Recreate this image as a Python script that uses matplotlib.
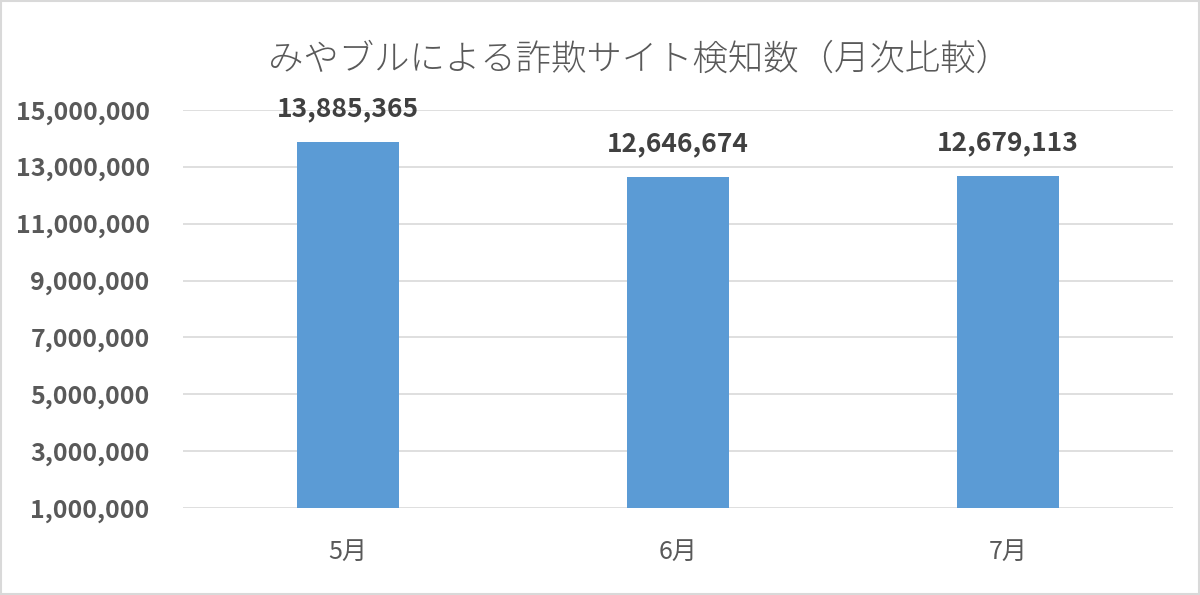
import matplotlib
matplotlib.use("Agg")
import matplotlib.pyplot as plt
from matplotlib.ticker import FuncFormatter
from matplotlib.patches import Rectangle

plt.rcParams['font.family'] = ['Noto Sans CJK JP', 'DejaVu Sans']

months = ["5月", "6月", "7月"]
counts = [13885365, 12646674, 12679113]
yticks = [1000000, 3000000, 5000000, 7000000, 9000000, 11000000, 13000000, 15000000]
title = "みやブルによる詐欺サイト検知数（月次比較）"

fig = plt.figure(figsize=(12, 5.95), dpi=100)
ax = fig.add_axes([0.1525, 0.1462, 0.825, 0.669])

x = range(len(months))
ax.bar(x, counts, width=0.31, color="#5B9BD5", zorder=3)
ax.set_xlim(-0.5, 2.5)
ax.set_ylim(yticks[0], yticks[-1])
ax.set_yticks(yticks)
ax.yaxis.set_major_formatter(FuncFormatter(lambda v, p: f"{int(v):,}"))
ax.grid(axis="y", color="#D9D9D9", linewidth=1.2, zorder=0)
for s in ["top", "right", "left", "bottom"]:
    ax.spines[s].set_visible(False)
ax.tick_params(axis="both", length=0)
ax.tick_params(axis="y", pad=24, labelsize=18, labelcolor="#595959")
ax.tick_params(axis="x", pad=22, labelsize=18, labelcolor="#595959")
for lab in ax.get_yticklabels():
    lab.set_fontweight("bold")
ax.set_xticks(list(x))
ax.set_xticklabels(months)

for i, v in zip(x, counts):
    ax.annotate(f"{v:,}", (i, v), xytext=(0, 14), textcoords="offset points",
                ha="center", va="bottom", fontsize=19, fontweight="bold", color="#404040")

fig.text(0.533, 0.9, title, ha="center", va="center", fontsize=25.5,
         fontweight="light", color="#595959")

fig.patches.append(Rectangle((0.001, 0.001), 0.998, 0.998, transform=fig.transFigure,
                             fill=False, edgecolor="#D9D9D9", linewidth=1.5))

fig.savefig("out.png", dpi=100, facecolor="white")
